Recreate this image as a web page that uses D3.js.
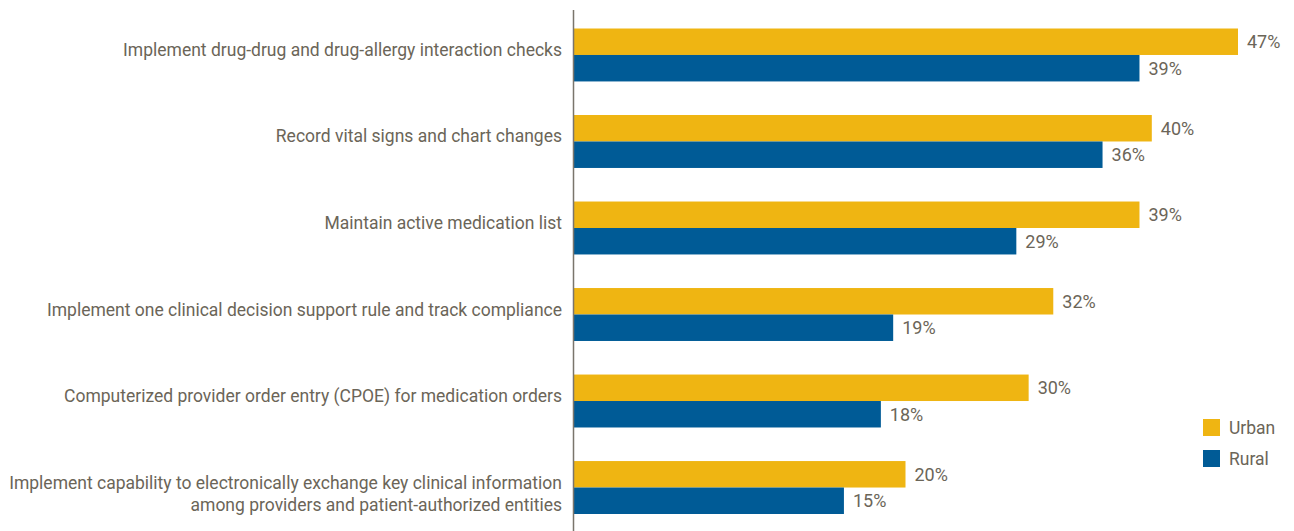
<!doctype html>
<html lang="en">
<head>
<meta charset="utf-8">
<title>Urban vs Rural</title>
<style>
  body { margin: 0; background: #fff; }
  text { font-family: Roboto, sans-serif; }
</style>
</head>
<body>
<div id="chart"></div>
<script src="https://d3js.org/d3.v7.min.js"></script>
<script>
// categories, top to bottom
var categories = [
  ["Implement drug-drug and drug-allergy interaction checks"],
  ["Record vital signs and chart changes"],
  ["Maintain active medication list"],
  ["Implement one clinical decision support rule and track compliance"],
  ["Computerized provider order entry (CPOE) for medication orders"],
  ["Implement capability to electronically exchange key clinical information", "among providers and patient-authorized entities"]
];
var urban = [47, 40, 39, 32, 30, 20];
var rural = [39, 36, 29, 19, 18, 15];
var seriesNames = ["Urban", "Rural"];
var colors = ["#efb512", "#005b96"];

var width = 1294, height = 531;
var svg = d3.select("#chart").append("svg")
  .attr("width", width)
  .attr("height", height);

// bars in the picture do not start from zero at the axis line
var x = d3.scaleLinear().domain([-7, 47]).range([573, 1238]);

var y = d3.scaleBand()
  .domain(d3.range(categories.length))
  .range([28.5, 514])
  .paddingInner(0.388)
  .paddingOuter(0);

var sub = d3.scaleBand().domain([0, 1]).range([0, y.bandwidth()]);

var rows = categories.map(function (c, i) {
  return { label: c, values: [urban[i], rural[i]], i: i };
});

var g = svg.selectAll("g.row")
  .data(rows)
  .enter().append("g")
  .attr("class", "row")
  .attr("transform", function (d) { return "translate(0," + y(d.i) + ")"; });

g.selectAll("rect")
  .data(function (d) { return d.values; })
  .enter().append("rect")
  .attr("x", x(-7))
  .attr("y", function (d, j) { return sub(j); })
  .attr("width", function (d) { return x(d) - x(-7); })
  .attr("height", sub.bandwidth())
  .attr("fill", function (d, j) { return colors[j]; });

g.selectAll("text.val")
  .data(function (d) { return d.values; })
  .enter().append("text")
  .attr("class", "val")
  .attr("x", function (d) { return x(d) + 9; })
  .attr("y", function (d, j) { return sub(j) + sub.bandwidth() / 2; })
  .attr("dy", "0.36em")
  .attr("font-size", "18px")
  .attr("fill", "#6b6558")
  .text(function (d) { return d + "%"; });

// category labels: first baseline sits on the urban/rural boundary
g.append("text")
  .attr("class", "cat")
  .attr("x", 562)
  .attr("y", y.bandwidth() / 2 + 1)
  .attr("text-anchor", "end")
  .attr("font-size", "17.5px")
  .attr("fill", "#6b6558")
  .selectAll("tspan")
  .data(function (d) { return d.label; })
  .enter().append("tspan")
  .attr("x", 562)
  .attr("dy", function (d, k) { return k === 0 ? 0 : 22; })
  .text(function (d) { return d; });

// axis line
svg.append("line")
  .attr("x1", 573.5).attr("x2", 573.5)
  .attr("y1", 10).attr("y2", 531)
  .attr("stroke", "#7a756c")
  .attr("stroke-width", 1.5);

// legend
var legend = svg.selectAll("g.legend")
  .data(seriesNames)
  .enter().append("g")
  .attr("class", "legend")
  .attr("transform", function (d, i) { return "translate(1203," + (419 + i * 31) + ")"; });

legend.append("rect")
  .attr("width", 17).attr("height", 17)
  .attr("fill", function (d, i) { return colors[i]; });

legend.append("text")
  .attr("x", 26).attr("y", 8.5)
  .attr("dy", "0.36em")
  .attr("font-size", "17.5px")
  .attr("fill", "#6b6558")
  .text(function (d) { return d; });
</script>
</body>
</html>
